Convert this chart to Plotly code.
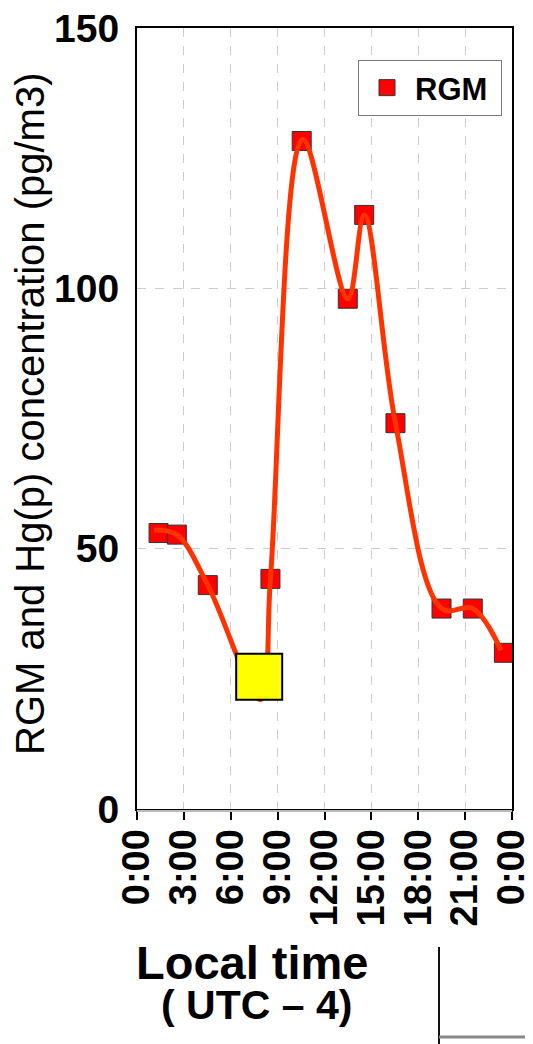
import plotly.graph_objects as go

# ---- data ----
tick_hours = [0, 3, 6, 9, 12, 15, 18, 21, 24]
tick_labels = ["0:00", "3:00", "6:00", "9:00", "12:00", "15:00", "18:00", "21:00", "0:00"]

rgm_hours = [1.38, 2.55, 4.53, 8.54, 10.54, 13.49, 14.54, 16.54, 19.49, 21.49, 23.48]
rgm_values = [53.0, 52.7, 43.0, 44.2, 128.3, 98.0, 114.1, 74.1, 38.5, 38.5, 30.0]

highlight_hours = [7.82]
highlight_values = [25.4]

curve_hours = [1.1, 2.55, 4.53, 7.9, 8.54, 10.6, 13.49, 14.54, 16.54, 19.49, 21.49, 23.3]
curve_values = [53.6, 52.7, 43.0, 21.0, 44.2, 128.6, 98.0, 114.1, 74.1, 38.5, 38.5, 30.5]

FONT = "Liberation Sans, Arial, sans-serif"

fig = go.Figure()
fig.add_trace(go.Scatter(
    x=rgm_hours, y=rgm_values, mode="markers", name="RGM\u00a0",
    marker=dict(symbol="square", size=19, color="#ff0000",
                line=dict(color="#333333", width=1)),
))
fig.add_trace(go.Scatter(
    x=curve_hours, y=curve_values, mode="lines", showlegend=False,
    line=dict(color="#ff3300", width=5, shape="spline", smoothing=1.0),
    hoverinfo="skip",
))
fig.add_trace(go.Scatter(
    x=highlight_hours, y=highlight_values, mode="markers", showlegend=False,
    marker=dict(symbol="square", size=46, color="#ffff00",
                line=dict(color="#000000", width=2)),
))

# page offset (default body margin)
OFF = 8
W, H = 533 - OFF, 1044 - OFF
L = 137 - OFF
T = 28 - OFF
R = W - (512 - OFF)
B = H - (809 - OFF)
pw = W - L - R
ph = H - T - B

def px_x(px):
    return (px - OFF - L) / pw

def px_y(py):
    return (H - B - (py - OFF)) / ph

fig.update_layout(
    width=W, height=H,
    margin=dict(l=L, r=R, t=T, b=B, autoexpand=False),
    paper_bgcolor="white", plot_bgcolor="white",
    font=dict(family=FONT, color="black"),
    showlegend=True,
    legend=dict(
        x=px_x(502), y=px_y(60), xanchor="right", yanchor="top",
        bgcolor="white", bordercolor="#777777", borderwidth=1,
        itemwidth=46,
        font=dict(size=31, family=FONT, weight="bold"),
    ),
    xaxis=dict(
        range=[0, 24], tickvals=tick_hours, ticktext=tick_labels,
        tickangle=-90, ticks="outside", ticklen=9, tickwidth=2, tickcolor="black",
        tickfont=dict(size=38, family=FONT, weight="bold"),
        showline=True, linecolor="black", linewidth=2, mirror=True,
        showgrid=True, gridcolor="#cccccc", griddash="dash", gridwidth=1,
        zeroline=False, ticklabelstandoff=-6, automargin=False,
        ticklabeloverflow="allow",
    ),
    yaxis=dict(
        range=[0, 150], tickvals=[0, 50, 100, 150],
        ticks="", tickfont=dict(size=39, family=FONT, weight="bold"),
        showline=True, linecolor="black", linewidth=2, mirror=True,
        showgrid=True, gridcolor="#cccccc", griddash="dash", gridwidth=1,
        zeroline=False, ticklabelstandoff=8, automargin=False,
        ticklabeloverflow="allow",
    ),
    annotations=[
        dict(text="RGM and Hg(p) concentration (pg/m3)", textangle=-90,
             xref="paper", yref="paper", x=px_x(30), y=px_y(414),
             xanchor="center", yanchor="middle", showarrow=False,
             font=dict(size=40, family=FONT)),
        dict(text="Local time", xref="paper", yref="paper",
             x=px_x(251.5), y=px_y(962), xanchor="center", yanchor="middle",
             showarrow=False, font=dict(size=47, family=FONT, weight="bold")),
        dict(text="( UTC – 4)", xref="paper", yref="paper",
             x=px_x(256.5), y=px_y(1005), xanchor="center", yanchor="middle",
             showarrow=False, font=dict(size=41, family=FONT, weight="bold")),
    ],
    shapes=[
        dict(type="line", xref="paper", yref="paper",
             x0=px_x(439), x1=px_x(439), y0=px_y(947), y1=px_y(1044),
             line=dict(color="#111111", width=2)),
        dict(type="line", xref="paper", yref="paper",
             x0=px_x(439), x1=px_x(533), y0=px_y(1037), y1=px_y(1037),
             line=dict(color="#888888", width=3)),
        dict(type="line", xref="paper", yref="paper",
             x0=0, x1=1, y0=px_y(811), y1=px_y(811),
             line=dict(color="#bbbbbb", width=2)),
    ],
)

fig.write_html("out.html")
